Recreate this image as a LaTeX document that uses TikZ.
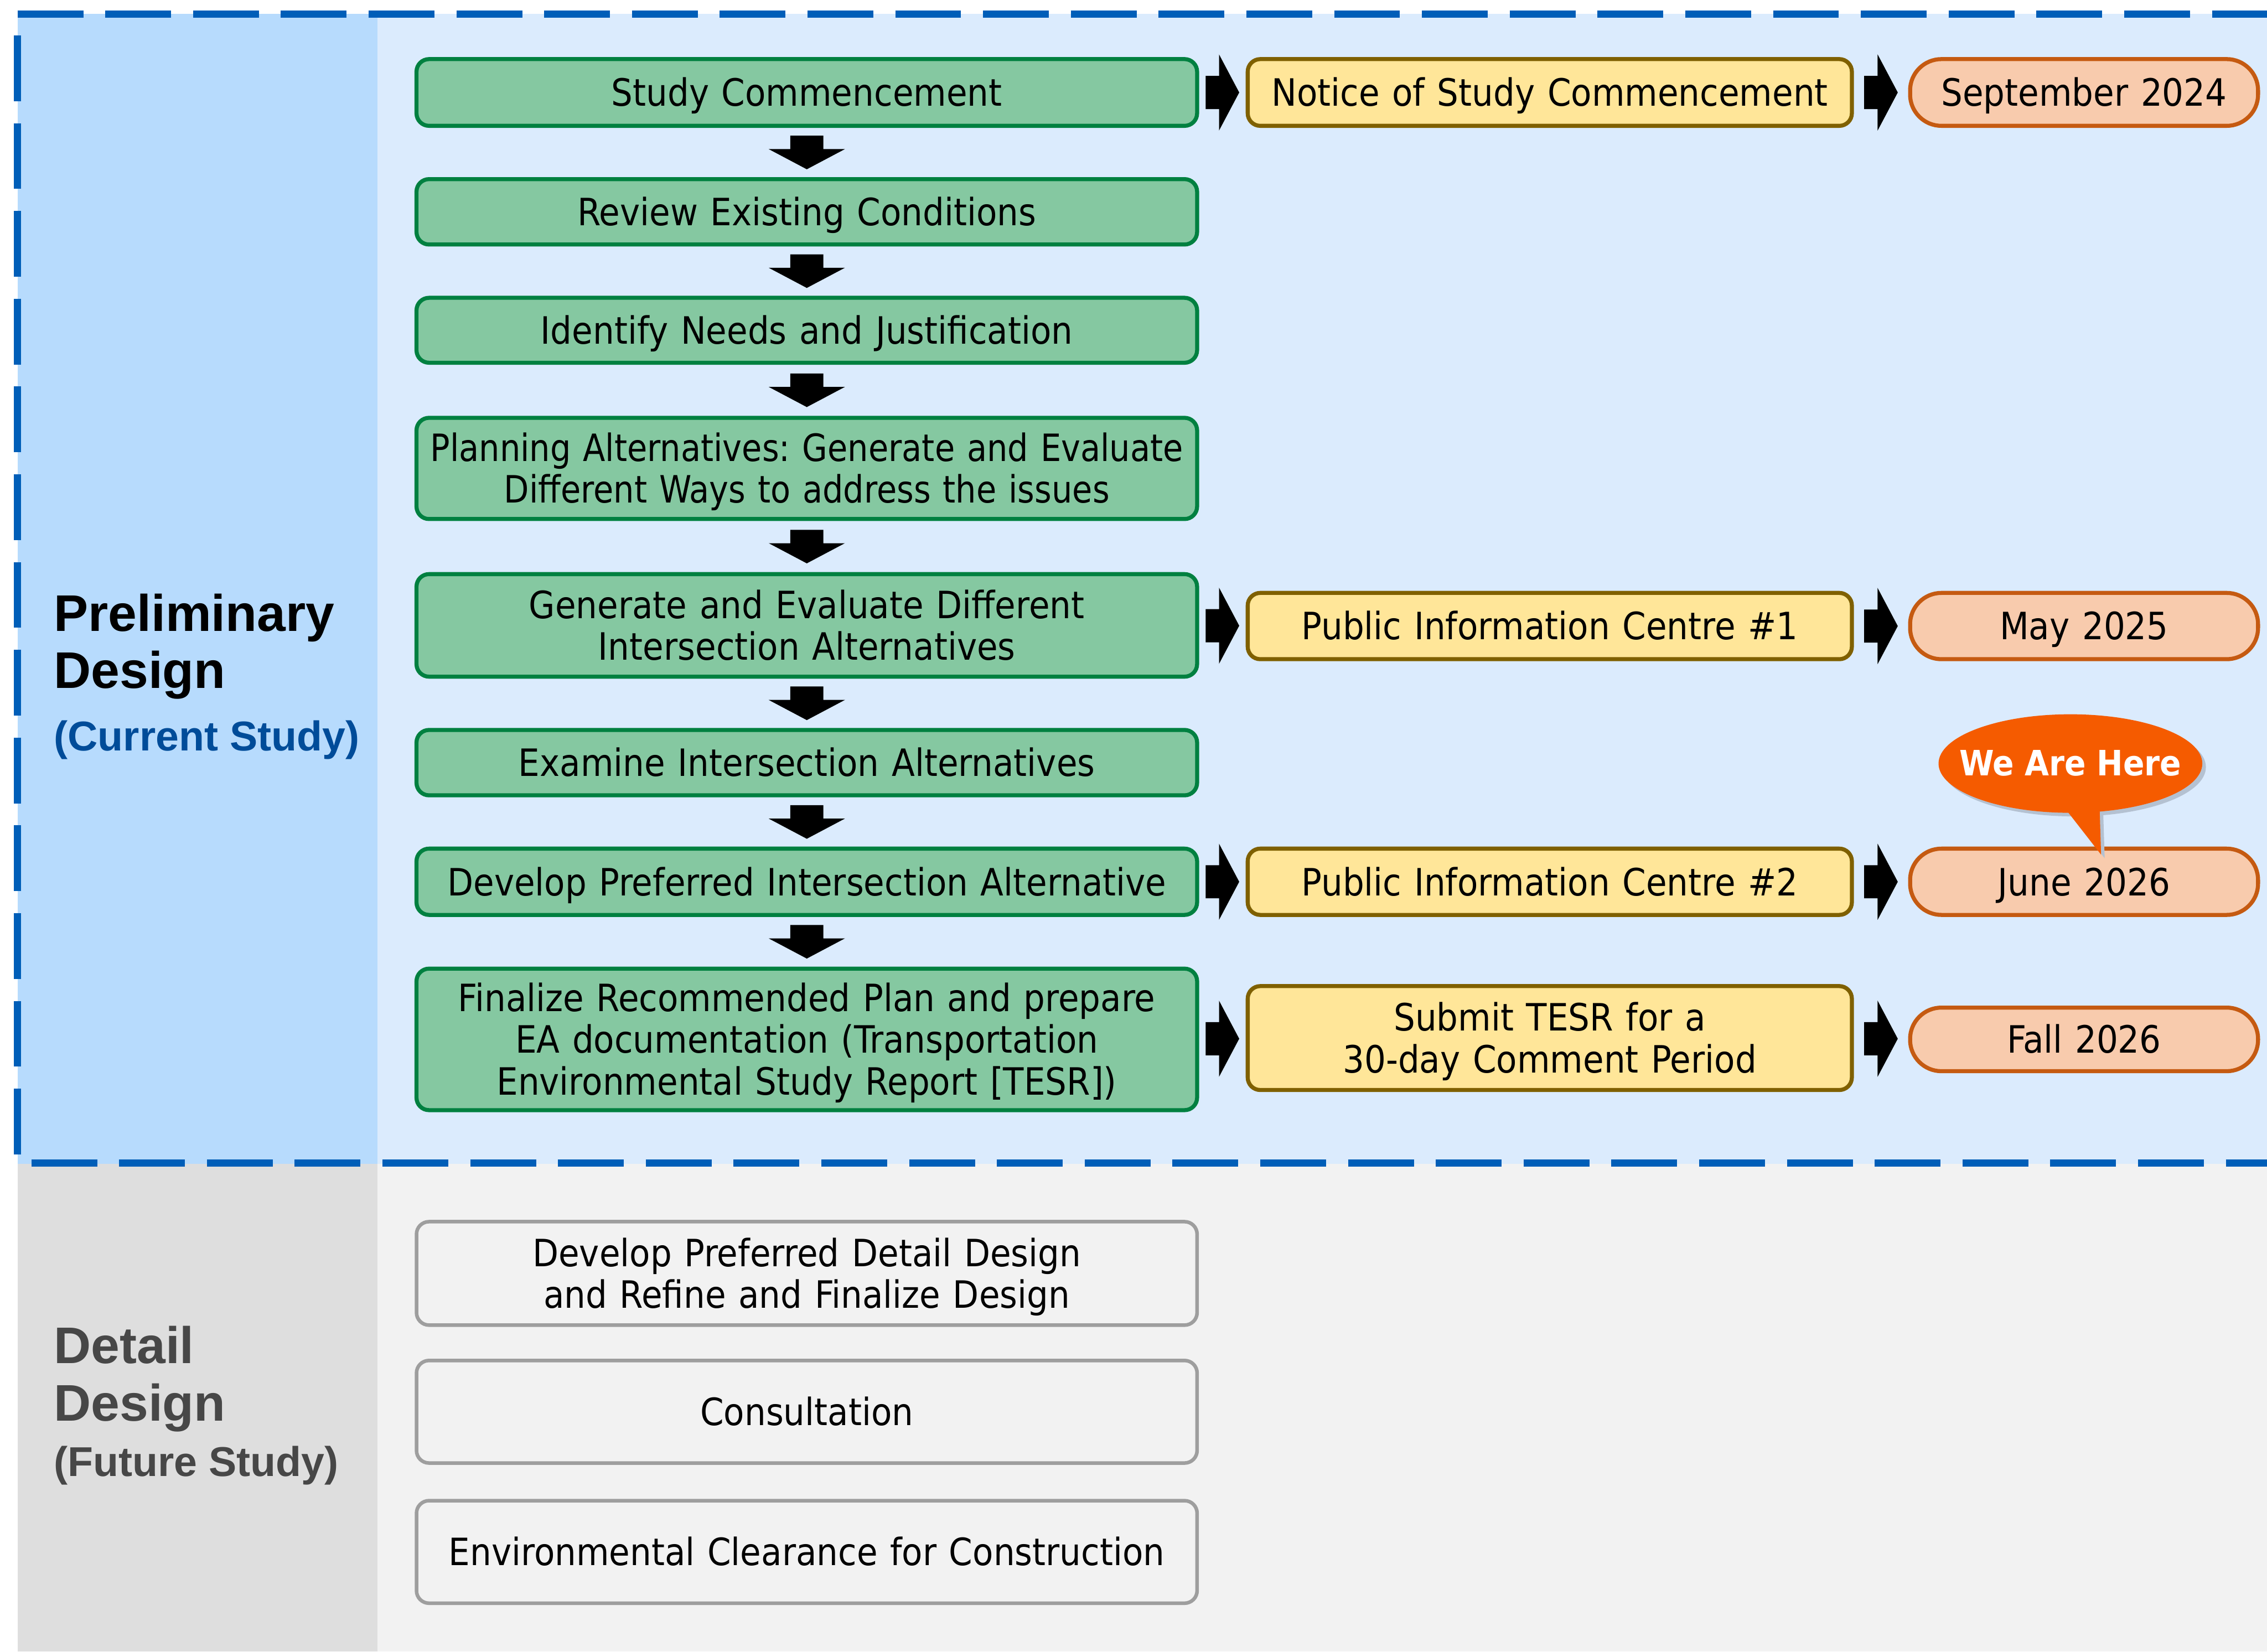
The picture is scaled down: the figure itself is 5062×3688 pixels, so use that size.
\documentclass[tikz,border=0pt]{standalone}
\usepackage{fontspec}
\IfFontExistsTF{DejaVu Sans Condensed}{\setmainfont{DejaVu Sans Condensed}}{\setmainfont{DejaVu Sans}[FakeStretch=0.9]}
\newfontfamily\titlefam{Liberation Sans}
\usetikzlibrary{calc}
\definecolor{dashblue}{HTML}{005EB8}
\definecolor{panelL}{HTML}{B7DBFD}
\definecolor{panelR}{HTML}{DBEBFD}
\definecolor{grayL}{HTML}{DEDEDE}
\definecolor{grayR}{HTML}{F2F2F2}
\definecolor{gfill}{HTML}{85C8A1}
\definecolor{gline}{HTML}{008040}
\definecolor{yfill}{HTML}{FFE699}
\definecolor{yline}{HTML}{7F6000}
\definecolor{ofill}{HTML}{F8CBAD}
\definecolor{oline}{HTML}{C55A11}
\definecolor{dfill}{HTML}{F2F2F2}
\definecolor{dline}{HTML}{9E9E9E}
\definecolor{callc}{HTML}{F55B00}
\definecolor{shadowc}{HTML}{B4C1D1}
\definecolor{curblue}{HTML}{004C99}
\definecolor{dgray}{HTML}{474747}
\newcommand\boxfont{\frenchspacing\fontsize{42pt}{46.5pt}\selectfont}
\newcommand\herefont{\bfseries\fontsize{39pt}{44pt}\selectfont}
\newcommand\tightline[1]{\makebox[0pt][c]{\scalebox{0.965}[1]{#1}}}
\begin{document}
\begin{tikzpicture}[x=0.5pt,y=-0.5pt,
  basebox/.style={rounded corners=14pt, line width=4.5pt, inner sep=0pt, align=center, font=\boxfont},
  gbox/.style={basebox, fill=gfill, draw=gline, text width=871.5pt},
  ybox/.style={basebox, fill=yfill, draw=yline, text width=674.5pt},
  obox/.style={basebox, fill=ofill, draw=oline, text width=388.5pt, rounded corners=35pt},
  dbox/.style={basebox, fill=dfill, draw=dline, line width=4pt, text width=871.5pt},
  oneline/.style={text height=30.6pt, text depth=0pt},
  twoline/.style={text height=30.6pt, text depth=46.5pt},
  threeline/.style={text height=30.6pt, text depth=93pt},
  dashline/.style={draw=dashblue, line width=8pt, dash pattern=on 73.5pt off 24.5pt},
  titletext/.style={font=\titlefam\bfseries\fontsize{57.5pt}{64pt}\selectfont, inner sep=0pt, anchor=base west},
  subtext/.style={font=\titlefam\bfseries\fontsize{46.5pt}{52pt}\selectfont, inner sep=0pt, anchor=base west},
  darrow/.pic={\fill (-37,-37.5) -- (37,-37.5) -- (37,-7.5) -- (85,-7.5) -- (0,37.5) -- (-85,-7.5) -- (-37,-7.5) -- cycle;},
  rarrow/.pic={\fill (-37.5,-37) -- (-7.5,-37) -- (-7.5,-85) -- (37.5,0) -- (-7.5,85) -- (-7.5,37) -- (-37.5,37) -- cycle;}
]
\useasboundingbox (0,0) rectangle (5062,3688);
% backgrounds
\fill[white] (0,0) rectangle (5062,3688);
\fill[panelL] (39,31) rectangle (843,2599);
\fill[panelR] (843,31) rectangle (5062,2599);
\fill[grayL] (39,2599) rectangle (843,3688);
\fill[grayR] (843,2599) rectangle (5062,3688);
% dashed frame
\draw[dashline] (39,31) -- (5062,31);
\draw[dashline] (39,79) -- (39,2579);
\draw[dashline] (70,2597) -- (5062,2597);

% left titles
\node[titletext] (pd1) at (120,1409) {Preliminary};
\node[titletext] (pd2) at (120,1537) {Design};
\node[subtext, text=curblue] (pd3) at (120,1676) {(Current Study)};
\node[titletext, text=dgray] (dd1) at (120,3045) {Detail};
\node[titletext, text=dgray] (dd2) at (120,3173) {Design};
\node[subtext, text=dgray] (dd3) at (120,3297) {(Future Study)};

% green process boxes
\node[gbox, oneline, minimum height=74.5pt] (g1) at (1801.5,206.5) {Study Commencement};
\node[gbox, oneline, minimum height=73pt] (g2) at (1801.5,473) {Review Existing Conditions};
\node[gbox, oneline, minimum height=72.5pt] (g3) at (1801.5,737.5) {Identify Needs and Justification};
\node[gbox, twoline, minimum height=113pt] (g4) at (1801.5,1046) {\tightline{Planning Alternatives: Generate and Evaluate}\\\tightline{Different Ways to address the issues}};
\node[gbox, twoline, minimum height=114.5pt] (g5) at (1801.5,1396.5) {Generate and Evaluate Different\\Intersection Alternatives};
\node[gbox, oneline, minimum height=73pt] (g6) at (1801.5,1703) {Examine Intersection Alternatives};
\node[gbox, oneline, minimum height=74pt] (g7) at (1801.5,1969) {Develop Preferred Intersection Alternative};
\node[gbox, threeline, minimum height=158pt] (g8) at (1801.5,2321) {Finalize Recommended Plan and prepare\\EA documentation (Transportation\\Environmental Study Report [TESR])};

% yellow consultation boxes
\node[ybox, oneline, minimum height=74.5pt] (y1) at (3460.5,206.5) {Notice of Study Commencement};
\node[ybox, oneline, minimum height=74pt] (y2) at (3460.5,1398) {Public Information Centre \#1};
\node[ybox, oneline, minimum height=74pt] (y3) at (3460.5,1969) {Public Information Centre \#2};
\node[ybox, twoline, minimum height=116pt] (y4) at (3460.5,2318) {Submit TESR for a\\30-day Comment Period};

% orange date boxes
\node[obox, oneline, minimum height=74.5pt] (o1) at (4653.5,206.5) {September 2024};
\node[obox, oneline, minimum height=74pt] (o2) at (4653.5,1398) {May 2025};
\node[obox, oneline, minimum height=74pt] (o3) at (4653.5,1969) {June 2026};
\node[obox, oneline, minimum height=71pt] (o4) at (4653.5,2321) {Fall 2026};

% detail design boxes
\node[dbox, twoline, minimum height=115.5pt] (d1) at (1801.5,2843.5) {Develop Preferred Detail Design\\and Refine and Finalize Design};
\node[dbox, oneline, minimum height=114.5pt] (d2) at (1801.5,3152.5) {Consultation};
\node[dbox, oneline, minimum height=114.5pt] (d3) at (1801.5,3465.5) {Environmental Clearance for Construction};

% arrows
\foreach \a/\b in {g1/g2,g2/g3,g3/g4,g4/g5,g5/g6,g6/g7,g7/g8}
  \pic at ($(\a.south)!0.5!(\b.north)$) {darrow};
\foreach \a/\b in {g1/y1,g5/y2,g7/y3,g8/y4,y1/o1,y2/o2,y3/o3,y4/o4}
  \pic at ($(\a.east)!0.5!(\b.west)$) {rarrow};

% callout
\coordinate (hc) at (4623,1705);
\coordinate (tip) at ($(o3.north)+(38,18)$);
\begin{scope}[transform canvas={xshift=4pt,yshift=-4pt}]
  \fill[shadowc] (hc) ellipse [x radius=147.25pt, y radius=55pt];
  \fill[shadowc] ($(hc)+(-16,95)$) -- (tip) -- ($(hc)+(65,95)$) -- cycle;
\end{scope}
\fill[callc] (hc) ellipse [x radius=147.25pt, y radius=55pt];
\fill[callc] ($(hc)+(-16,95)$) -- (tip) -- ($(hc)+(65,95)$) -- cycle;
\node[font=\herefont, text=white, inner sep=0pt, text height=28.4pt, text depth=0pt] (here) at (4623,1703) {We Are Here};
\end{tikzpicture}
\end{document}
